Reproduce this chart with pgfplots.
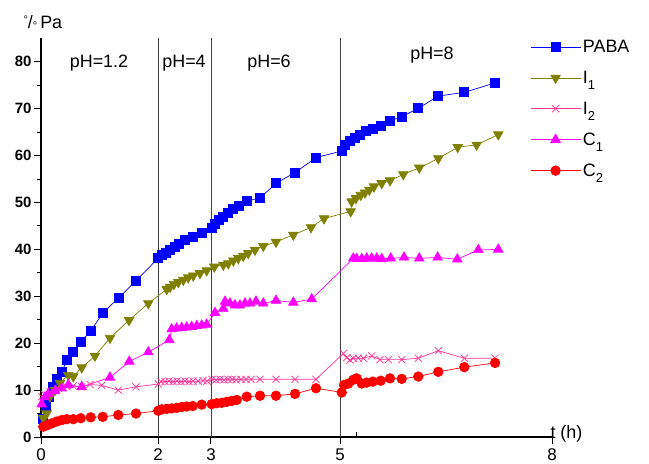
\documentclass[border=0pt]{standalone}
\usepackage{pgfplots}
\pgfplotsset{compat=1.18}
\usepackage{fontspec}
\setmainfont{Liberation Sans}
\definecolor{cPABA}{RGB}{0,0,255}
\definecolor{cIa}{RGB}{128,128,0}
\definecolor{cIb}{RGB}{255,51,153}
\definecolor{cCa}{RGB}{255,0,255}
\definecolor{cCb}{RGB}{255,0,0}
\begin{document}
\begin{tikzpicture}
\path[use as bounding box] (-41bp,-27bp) rectangle (608bp,437bp);
\begin{axis}[
 scale only axis, width=511bp, height=398.6bp,
 at={(0,0)}, anchor=south west,
 xmin=0, xmax=8, ymin=0, ymax=85,
 axis x line=bottom, axis y line=left,
 axis line style={-, line width=1.6bp},
 xtick={0,1.832,2.661,4.681,8}, xticklabels={0,2,3,5,8},
 extra x ticks={4.947}, extra x tick labels={},
 extra x tick style={tick align=inside, major tick length=5bp},
 ytick={0,10,...,80}, minor ytick={5,15,...,75},
 /pgf/number format/assume math mode=true,
 y tick label style={font=\fontsize{15}{15}\selectfont\bfseries, xshift=1bp},
 x tick label style={font=\fontsize{17}{17}\selectfont, yshift=-1bp},
 tick style={black, line width=1bp},
 major tick length=7bp, minor tick length=4bp,
 tick align=outside,
 clip=false,
 every axis plot/.append style={line width=0.7bp},
 legend style={at={(axis description cs:0.957,1.001)}, anchor=north west,
   draw=none, fill=none, inner sep=0pt, row sep=13bp,
   font=\fontsize{18}{18}\selectfont,
   /tikz/every even column/.append style={column sep=4bp}},
 legend cell align=left,
 legend image code/.code={\draw[mark repeat=2,mark phase=2,#1] plot coordinates {(0bp,0bp) (25bp,0bp) (50bp,0bp)};},
]
% vertical separators
\draw[black!75, line width=0.8bp] (axis cs:1.832,0) -- (axis cs:1.832,85);
\draw[black!75, line width=0.8bp] (axis cs:2.661,0) -- (axis cs:2.661,85);
\draw[black!75, line width=0.8bp] (axis cs:4.681,0) -- (axis cs:4.681,85);
\node[anchor=base, font=\fontsize{18}{18}\selectfont] at (axis cs:0.908,78.9) {pH=1.2};
\node[anchor=base, font=\fontsize{18}{18}\selectfont] at (axis cs:2.239,78.9) {pH=4};
\node[anchor=base, font=\fontsize{18}{18}\selectfont] at (axis cs:3.570,78.9) {pH=6};
\node[anchor=base, font=\fontsize{18}{18}\selectfont] at (axis cs:6.121,80.4) {pH=8};

% PABA
\addplot[color=cPABA, mark=square*, mark size=4.5bp] coordinates {
(0.036,3.8) (0.078,6.5) (0.130,8.5) (0.183,10.7) (0.246,12.4) (0.329,13.9)
(0.402,16.4) (0.496,18.1) (0.622,20.3) (0.778,22.6) (0.966,26.4) (1.216,29.7)
(1.487,33.3) (1.832,38.1) (1.890,38.8) (1.957,39.3) (2.020,39.9) (2.103,40.6)
(2.165,41.2) (2.254,42.0) (2.375,42.7) (2.516,43.6) (2.672,44.7) (2.724,45.4)
(2.791,46.3) (2.854,47.0) (2.932,47.8) (3.011,48.6) (3.104,49.3) (3.220,50.3)
(3.429,51.0) (3.679,54.1) (3.977,56.4) (4.310,59.6) (4.708,61.0) (4.759,62.3)
(4.838,63.1) (4.916,63.8) (4.994,64.5) (5.088,65.2) (5.193,65.8) (5.318,66.4)
(5.464,67.4) (5.647,68.3) (5.907,70.1) (6.220,72.7) (6.627,73.5) (7.108,75.5)
};
\addlegendentry{PABA}
% I1
\addplot[color=cIa, mark=triangle*, mark size=5.5bp, mark options={rotate=180}] coordinates {
(0.036,4.0) (0.089,5.0) (0.141,8.6) (0.219,10.0) (0.297,11.5) (0.427,13.2)
(0.506,12.9) (0.637,14.8) (0.845,17.3) (1.080,21.1) (1.378,24.9) (1.680,28.5)
(1.968,31.5) (2.020,32.0) (2.082,32.6) (2.150,33.0) (2.228,33.5) (2.306,34.0)
(2.384,34.4) (2.489,34.9) (2.594,35.5) (2.713,36.3) (2.854,36.7) (2.932,37.0)
(3.011,37.6) (3.089,38.1) (3.167,38.6) (3.245,39.2) (3.350,39.9) (3.480,40.7)
(3.679,41.6) (3.950,43.1) (4.227,44.7) (4.431,46.6) (4.849,48.1) (4.864,50.2)
(4.931,50.9) (5.005,51.6) (5.072,52.1) (5.140,52.7) (5.213,53.4) (5.334,54.1)
(5.464,54.7) (5.672,56.0) (5.922,57.4) (6.220,59.4) (6.524,61.8) (6.821,62.3)
(7.159,64.5)
};
\addlegendentry{I\raisebox{-6bp}{\fontsize{13}{13}\selectfont 1}}
% I2
\addplot[color=cIb, mark=x, mark size=5bp] coordinates {
(0.011,8.6) (0.063,9.0) (0.141,9.6) (0.271,10.4) (0.402,10.7) (0.506,10.9)
(0.637,10.7) (0.767,11.2) (0.950,11.0) (1.210,10.0) (1.487,10.7) (1.836,11.3)
(1.879,11.8) (1.941,11.8) (2.004,11.9) (2.067,11.8) (2.129,11.9) (2.192,11.8)
(2.254,11.9) (2.317,11.8) (2.380,11.9) (2.458,11.9) (2.536,12.0) (2.599,11.9)
(2.677,12.3) (2.740,12.2) (2.802,12.3) (2.865,12.2) (2.928,12.3) (2.990,12.3)
(3.053,12.2) (3.131,12.3) (3.209,12.3) (3.288,12.3) (3.429,12.3) (3.679,12.3)
(3.977,12.3) (4.305,12.3) (4.733,17.8) (4.786,16.9) (4.838,16.4) (4.889,16.8)
(4.967,16.8) (5.046,16.8) (5.177,17.3) (5.307,16.5) (5.437,16.5) (5.647,16.5)
(5.907,16.8) (6.220,18.4) (6.627,16.8) (7.108,16.8)
};
\addlegendentry{I\raisebox{-6bp}{\fontsize{13}{13}\selectfont 2}}
% C1
\addplot[color=cCa, mark=triangle*, mark size=5.5bp] coordinates {
(0.011,7.0) (0.063,8.5) (0.114,9.2) (0.219,9.8) (0.324,10.4) (0.427,11.1)
(0.637,10.7) (1.080,12.7) (1.382,16.1) (1.680,18.1) (2.009,20.7) (2.046,23.0)
(2.124,23.2) (2.203,23.3) (2.281,23.4) (2.359,23.5) (2.438,23.7) (2.516,23.8)
(2.594,24.0) (2.724,26.5) (2.854,27.4) (2.881,28.9) (2.959,28.5) (3.037,28.1)
(3.115,28.1) (3.194,28.5) (3.272,28.5) (3.366,28.9) (3.480,28.5) (3.679,29.1)
(3.950,28.7) (4.238,29.4) (4.889,38.1) (4.942,38.0) (5.021,38.0) (5.099,38.1)
(5.177,38.1) (5.256,38.1) (5.334,38.0) (5.475,38.1) (5.683,38.3) (5.922,38.1)
(6.210,38.3) (6.517,37.9) (6.846,39.9) (7.159,40.0)
};
\addlegendentry{C\raisebox{-6bp}{\fontsize{13}{13}\selectfont 1}}
% C2
\addplot[color=cCb, mark=*, mark size=4.8bp] coordinates {
(0.036,2.2) (0.114,2.6) (0.168,2.9) (0.246,3.3) (0.324,3.6) (0.402,3.8)
(0.506,3.8) (0.622,4.0) (0.778,4.2) (0.966,4.3) (1.210,4.7) (1.487,5.0)
(1.836,5.6) (1.890,5.9) (1.968,6.0) (2.046,6.1) (2.124,6.2) (2.203,6.4)
(2.281,6.5) (2.375,6.6) (2.516,6.9) (2.672,7.0) (2.751,7.2) (2.829,7.3)
(2.907,7.5) (2.986,7.7) (3.064,7.9) (3.220,8.6) (3.429,8.8) (3.679,8.8)
(3.977,9.2) (4.305,10.4) (4.708,9.5) (4.744,11.1) (4.811,11.4) (4.889,12.2)
(4.942,12.5) (5.021,11.4) (5.099,11.6) (5.193,11.8) (5.318,12.0) (5.464,12.5)
(5.647,12.4) (5.907,12.9) (6.220,13.9) (6.627,14.9) (7.108,15.8)
};
\addlegendentry{C\raisebox{-6bp}{\fontsize{13}{13}\selectfont 2}}
\end{axis}
\node[anchor=base west, font=\fontsize{18}{18}\selectfont] at (-21bp,408bp)
  {{\fontsize{11}{11}\selectfont\raisebox{5bp}{°}}/{\fontsize{11}{11}\selectfont\raisebox{-1bp}{°}}\,Pa};
\node[anchor=base west, font=\fontsize{18}{18}\selectfont] at (506bp,-1bp) {t (h)};
\end{tikzpicture}
\end{document}
